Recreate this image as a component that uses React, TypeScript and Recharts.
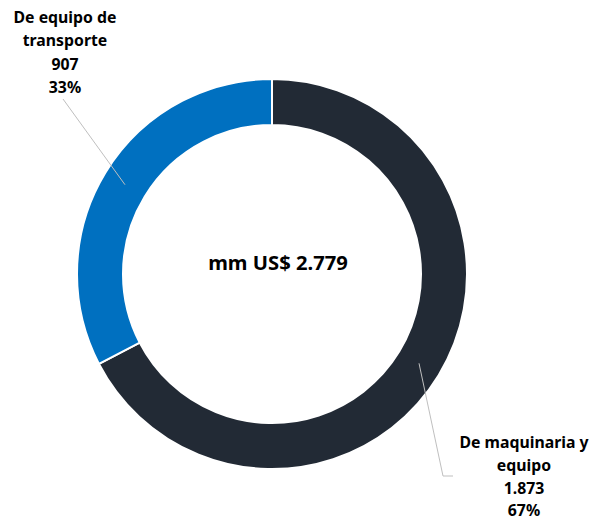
import React from "react";
import { PieChart, Pie, Cell, Label } from "recharts";

const categories = ["De maquinaria y equipo", "De equipo de transporte"];
const labelLines = [["De maquinaria y", "equipo"], ["De equipo de", "transporte"]];
const values = [1873, 907];
const valueLabels = ["1.873", "907"];
const percentLabels = ["67%", "33%"];
const totalLabel = "mm US$ 2.779";
const colors = ["#222A35", "#0070C0"];

const data = categories.map((name, i) => ({ name, value: values[i] }));

const FONT = "'Noto Sans', 'Open Sans', sans-serif";
const RAD = Math.PI / 180;

// label layout: line end points and text block centre
const labelLayout = [
  { path: [[443, 476], [453, 476]], tx: 524, ty: 442, gap: 22.8 },
  { path: [[63, 99]], tx: 65, ty: 17, gap: 23.3 },
];

const renderLabel = (props: any) => {
  const { cx, cy, midAngle, innerRadius, outerRadius, index } = props;
  const r = (innerRadius + outerRadius) / 2;
  const sx = cx + r * Math.cos(-midAngle * RAD);
  const sy = cy + r * Math.sin(-midAngle * RAD);
  const lay = labelLayout[index];
  const pts = [[sx, sy], ...lay.path];
  const d = pts.map((p, i) => `${i === 0 ? "M" : "L"}${p[0]},${p[1]}`).join(" ");
  const lines = [...labelLines[index], valueLabels[index], percentLabels[index]];
  return (
    <g key={`lbl-${index}`}>
      <path d={d} stroke="#BFBFBF" strokeWidth={1} fill="none" />
      {lines.map((t, i) => (
        <text
          key={i}
          x={lay.tx}
          y={lay.ty + i * lay.gap}
          textAnchor="middle"
          dominantBaseline="central"
          fontFamily={FONT}
          fontWeight={700}
          fontSize={15.8}
          fill="#000"
        >
          {t}
        </text>
      ))}
    </g>
  );
};

export default function App() {
  return (
    <div style={{ position: "absolute", left: 0, top: 0, width: 592, height: 522, background: "#fff" }}>
      <PieChart width={592} height={522} margin={{ top: 0, right: 0, bottom: 0, left: 0 }}>
        <Pie
          data={data}
          dataKey="value"
          nameKey="name"
          cx={272}
          cy={274}
          innerRadius={149}
          outerRadius={195}
          startAngle={90}
          endAngle={-270}
          stroke="#FFFFFF"
          strokeWidth={2}
          isAnimationActive={false}
          label={renderLabel}
          labelLine={false}
        >
          {data.map((d, i) => (
            <Cell key={d.name} fill={colors[i]} />
          ))}
          <Label
            position="center"
            content={(p: any) => {
              const vb = p.viewBox || {};
              return (
                <text
                  x={(vb.cx ?? 272) + 6}
                  y={(vb.cy ?? 274) - 12}
                  textAnchor="middle"
                  dominantBaseline="central"
                  fontFamily={FONT}
                  fontWeight={700}
                  fontSize={20.2}
                  fill="#000"
                >
                  {totalLabel}
                </text>
              );
            }}
          />
        </Pie>
      </PieChart>
    </div>
  );
}
